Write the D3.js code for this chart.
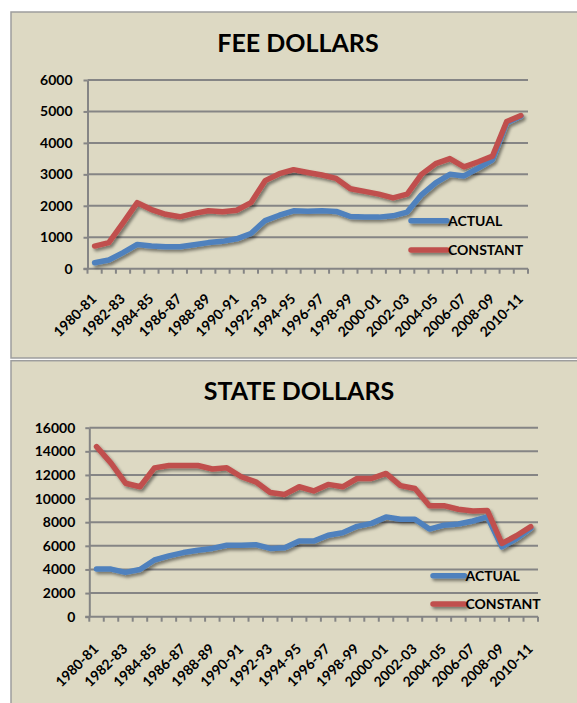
<!DOCTYPE html>
<html>
<head>
<meta charset="utf-8">
<script src="https://cdn.jsdelivr.net/npm/d3@7"></script>
<style>
  html, body { margin: 0; padding: 0; background: #ffffff; }
  svg { display: block; }
  text { font-family: Lato, "Open Sans", sans-serif; font-weight: 700; fill: #000; }
</style>
</head>
<body>
<svg id="chart" width="577" height="703"></svg>
<script>
// ---------- DATA ----------
const categories = ["1980-81","1981-82","1982-83","1983-84","1984-85","1985-86","1986-87","1987-88",
  "1988-89","1989-90","1990-91","1991-92","1992-93","1993-94","1994-95","1995-96","1996-97","1997-98",
  "1998-99","1999-00","2000-01","2001-02","2002-03","2003-04","2004-05","2005-06","2006-07","2007-08",
  "2008-09","2009-10","2010-11"];

const feeActual = [190,275,510,770,720,700,700,760,830,870,950,1120,1530,1700,1840,
  1830,1840,1820,1660,1640,1640,1680,1800,2350,2730,3000,2950,3200,3460,4640,4850];
const feeConstant = [720,830,1460,2100,1880,1730,1650,1760,1840,1810,1860,2100,2800,3020,3150,
  3060,2980,2870,2540,2460,2370,2250,2370,3000,3340,3500,3240,3400,3580,4680,4870];

const stateActual = [4030,4030,3750,4000,4800,5150,5430,5630,5780,6050,6050,6100,5780,5830,6400,
  6400,6900,7100,7650,7900,8450,8250,8250,7420,7750,7850,8100,8450,5920,6600,7480];
const stateConstant = [14400,13000,11300,11000,12600,12800,12800,12800,12500,12600,11850,11420,10520,10350,11000,
  10650,11200,11000,11700,11700,12130,11100,10850,9400,9400,9100,8950,9000,6200,6850,7620];

const feeTicks = [0,1000,2000,3000,4000,5000,6000];
const stateTicks = [0,2000,4000,6000,8000,10000,12000,14000,16000];
const seriesNames = ["ACTUAL","CONSTANT"];
const titles = ["FEE DOLLARS","STATE DOLLARS"];

// ---------- STYLE ----------
const colors = { ACTUAL: "#4F81BD", CONSTANT: "#C0504D" };
const bg = "#DDD9C3";
const gridColor = "#858585";

const svg = d3.select("#chart");
const defs = svg.append("defs");
const f = defs.append("filter").attr("id","shadow").attr("filterUnits","userSpaceOnUse")
  .attr("x",0).attr("y",0).attr("width",577).attr("height",703);
f.append("feDropShadow").attr("dx",2).attr("dy",2.5).attr("stdDeviation",1.6)
  .attr("flood-color","#000").attr("flood-opacity",0.45);

function drawPanel(cfg) {
  const g = svg.append("g");
  g.append("rect").attr("x", cfg.panel[0]).attr("y", cfg.panel[1])
    .attr("width", cfg.panel[2]).attr("height", cfg.panel[3])
    .attr("fill", bg).attr("stroke", "#9d9d9d").attr("stroke-width", 1.5);

  g.append("text").attr("x", cfg.titleX).attr("y", cfg.titleY)
    .attr("text-anchor","middle").style("font-size","25px").text(cfg.title);

  const x = d3.scaleBand().domain(categories).range([cfg.x0, cfg.x1]).padding(0);
  const y = d3.scaleLinear().domain([0, cfg.ticks[cfg.ticks.length-1]]).range([cfg.yBottom, cfg.yTop]);
  const bw = x.bandwidth();

  // gridlines
  g.append("g").selectAll("line").data(cfg.ticks.filter(t => t > 0)).join("line")
    .attr("x1", cfg.x0).attr("x2", cfg.x1)
    .attr("y1", d => y(d)).attr("y2", d => y(d))
    .attr("stroke", gridColor).attr("stroke-width", 2);

  // y axis
  const ya = g.append("g").attr("transform", `translate(${cfg.x0},0)`)
    .call(d3.axisLeft(y).tickValues(cfg.ticks).tickFormat(d3.format("d")).tickSizeInner(4).tickSizeOuter(0).tickPadding(cfg.yPad));
  ya.select(".domain").attr("stroke", gridColor).attr("stroke-width", 2);
  ya.selectAll(".tick line").attr("stroke", gridColor).attr("stroke-width", 2);
  ya.selectAll(".tick text").style("font-size","14px").style("font-family","Lato, sans-serif").attr("fill","#000");

  // x axis
  g.append("line").attr("x1", cfg.x0 - 4).attr("x2", cfg.x1)
    .attr("y1", y(0)).attr("y2", y(0)).attr("stroke", gridColor).attr("stroke-width", 2);
  const bounds = categories.map(c => x(c)).concat([cfg.x1]);
  g.append("g").selectAll("line").data(bounds).join("line")
    .attr("x1", d => d).attr("x2", d => d)
    .attr("y1", y(0)).attr("y2", y(0) + 5)
    .attr("stroke", gridColor).attr("stroke-width", 2);

  g.append("g").selectAll("text").data(categories.filter((c,i) => i % 2 === 0)).join("text")
    .attr("text-anchor","end")
    .attr("transform", d => `translate(${x(d) + bw/2 + cfg.lblDx},${y(0) + cfg.lblDy}) rotate(-45)`)
    .style("font-size","14px")
    .text(d => d);

  // series
  const line = d3.line().x((d,i) => x(categories[i]) + bw/2).y(d => y(d)).curve(d3.curveLinear);
  const series = [["ACTUAL", cfg.actual], ["CONSTANT", cfg.constant]];
  g.append("g").attr("filter","url(#shadow)").selectAll("path").data(series).join("path")
    .attr("d", d => line(d[1]))
    .attr("fill","none").attr("stroke", d => colors[d[0]])
    .attr("stroke-width", 5.5).attr("stroke-linejoin","round").attr("stroke-linecap","round");

  // legend
  const lg = g.append("g");
  seriesNames.forEach((s, i) => {
    const ly = cfg.legY[i];
    lg.append("line").attr("x1", cfg.legX0).attr("x2", cfg.legX1).attr("y1", ly).attr("y2", ly)
      .attr("stroke", colors[s]).attr("stroke-width", 5.5).attr("stroke-linecap","round")
      .attr("filter","url(#shadow)");
    lg.append("text").attr("x", cfg.legX1 + 1).attr("y", ly).attr("dy","0.36em")
      .style("font-size","14px").text(s);
  });
}

drawPanel({
  panel: [11, 12, 580, 346],
  title: titles[0], titleX: 298, titleY: 52,
  x0: 87.5, x1: 528, yTop: 80, yBottom: 268.7,
  ticks: feeTicks, yPad: 11,
  actual: feeActual, constant: feeConstant,
  lblDx: 3, lblDy: 31,
  legX0: 411, legX1: 447, legY: [220.7, 250]
});

drawPanel({
  panel: [11, 360.7, 580, 360],
  title: titles[1], titleX: 299, titleY: 400,
  x0: 89.3, x1: 538, yTop: 427.7, yBottom: 616.7,
  ticks: stateTicks, yPad: 10,
  actual: stateActual, constant: stateConstant,
  lblDx: 3, lblDy: 33,
  legX0: 433, legX1: 464.5, legY: [575.7, 604]
});
</script>
</body>
</html>
